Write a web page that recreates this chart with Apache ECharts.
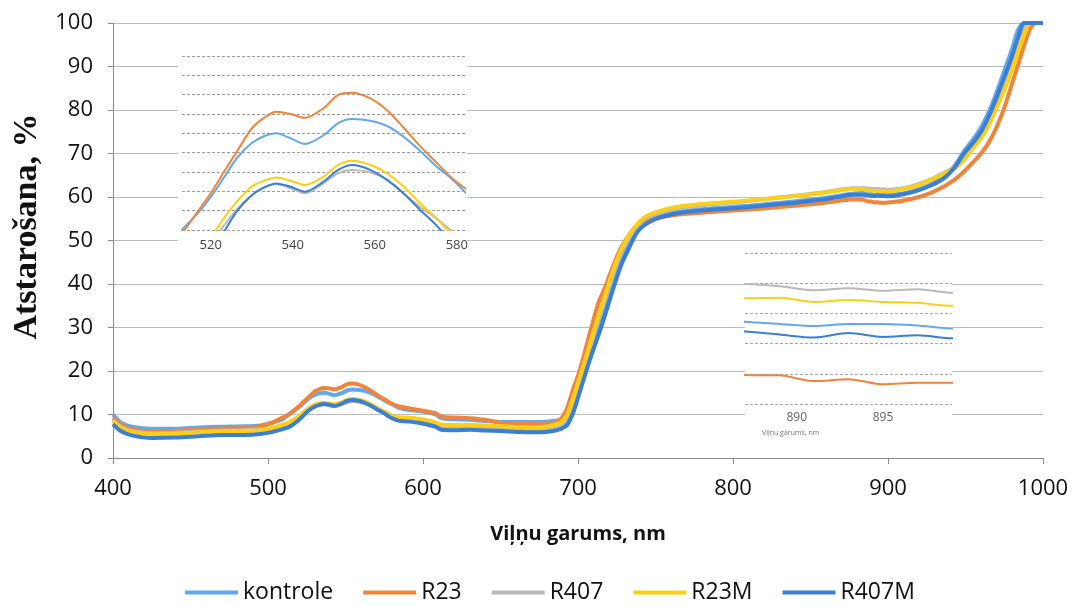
<!DOCTYPE html>
<html>
<head>
<meta charset="utf-8">
<script src="https://cdn.jsdelivr.net/npm/echarts@6/dist/echarts.min.js"></script>
<style>
  html, body { margin: 0; padding: 0; background: #fff; }
  #chart { width: 1073px; height: 606px; }
</style>
</head>
<body>
<div id="chart"></div>
<script>
// Reflectance spectra, wavelength in nm
const wavelengths = [
  400, 405, 412, 425, 440, 455, 470, 485, 495, 503,
  510, 513, 517, 520, 523.5, 526.5, 530, 533, 536, 539.5,
  543, 547.5, 551, 554.5, 559, 563, 567, 571, 575, 579,
  584, 590, 597, 604, 608, 612, 620, 630, 640, 650,
  662, 675, 684, 689, 693, 697, 701, 705, 709, 713,
  718, 723, 728, 733, 738, 744, 752, 765, 780, 795,
  810, 825, 840, 855, 868, 878, 884, 887, 889, 891,
  893, 895, 897, 899, 905, 912, 920, 928, 936, 943,
  949, 955, 960, 965, 970, 975, 980, 984, 988, 992,
  996, 1000
];

const kontrole = [
  10.0, 8.2, 7.2, 6.7, 6.7, 7.0, 7.2, 7.3, 7.5, 8.1,
  9.0, 10.0, 10.9, 11.7, 12.8, 13.75, 14.5, 14.85, 15.0, 14.74,
  14.45, 14.9, 15.52, 15.74, 15.65, 15.38, 14.83, 14.1, 13.3, 12.6,
  11.6, 11.1, 10.8, 10.4, 10.0, 9.1, 8.9, 8.8, 8.5, 8.3,
  8.3, 8.3, 8.5, 8.9, 9.8, 12.5, 16.5, 21.0, 25.5, 29.7,
  35.0, 40.5, 45.5, 49.3, 52.3, 54.2, 55.5, 56.6, 57.2, 57.6,
  58.0, 58.5, 59.0, 59.6, 60.3, 60.8, 60.9, 60.72, 60.65, 60.58,
  60.65, 60.65, 60.6, 60.5, 60.6, 61.0, 61.8, 63.0, 64.8, 67.2,
  70.5, 73.3, 76.0, 79.5, 84.0, 89.0, 94.0, 98.5, 100, 100,
  100, 100
];

const r23 = [
  9.3, 7.7, 6.6, 6.1, 6.2, 6.6, 6.8, 6.9, 7.3, 8.2,
  9.4, 9.85, 11.0, 11.9, 13.1, 14.1, 15.25, 15.8, 16.12, 16.0,
  15.8, 16.3, 16.98, 17.1, 16.8, 16.2, 15.3, 14.35, 13.5, 12.65,
  11.9, 11.5, 11.05, 10.6, 10.3, 9.5, 9.3, 9.15, 8.8, 8.1,
  7.9, 7.75, 8.0, 9.0, 11.5, 16.0, 20.0, 25.2, 30.5, 35.5,
  39.7, 44.5, 48.5, 51.3, 53.3, 54.3, 55.2, 56.0, 56.4, 56.8,
  57.1, 57.5, 58.0, 58.5, 59.1, 59.5, 59.4, 58.96, 58.95, 58.76,
  58.82, 58.65, 58.7, 58.7, 58.9, 59.3, 60.0, 61.0, 62.4, 64.0,
  65.8, 68.0, 70.0, 72.5, 76.0, 80.5, 86.0, 90.5, 95.0, 98.8,
  100, 100
];

const r407 = [
  8.7, 7.2, 6.2, 5.7, 5.8, 6.1, 6.3, 6.4, 6.6, 6.8,
  7.3, 7.5, 8.4, 9.3, 10.3, 11.1, 11.8, 12.2, 12.38, 12.16,
  11.9, 12.41, 12.93, 13.1, 12.97, 12.59, 11.9, 11.2, 10.6, 9.9,
  9.0, 8.8, 8.5, 8.1, 7.7, 7.1, 7.0, 7.0, 6.9, 6.7,
  6.5, 6.4, 6.8, 7.5, 9.0, 13.2, 17.5, 22.0, 26.8, 31.5,
  37.0, 42.5, 47.2, 50.6, 53.0, 55.2, 56.3, 57.4, 58.1, 58.6,
  59.1, 59.7, 60.3, 60.9, 61.6, 62.0, 62.0, 61.97, 61.9, 61.77,
  61.83, 61.75, 61.8, 61.68, 61.8, 62.2, 63.0, 64.1, 65.5, 66.9,
  69.0, 72.0, 74.5, 77.8, 81.8, 86.3, 91.0, 95.3, 99.0, 100,
  100, 100
];

const r23m = [
  8.5, 7.0, 6.0, 5.5, 5.6, 5.9, 6.1, 6.2, 6.4, 7.0,
  7.7, 8.1, 8.9, 9.6, 10.7, 11.5, 12.25, 12.55, 12.72, 12.55,
  12.33, 12.76, 13.36, 13.58, 13.36, 12.93, 12.25, 11.4, 10.6, 9.8,
  9.4, 9.3, 9.05, 8.6, 8.2, 7.7, 7.6, 7.6, 7.5, 7.3,
  7.1, 7.0, 7.6, 8.2, 10.0, 14.0, 18.4, 23.0, 27.8, 32.5,
  38.0, 43.5, 48.0, 51.3, 53.7, 55.6, 56.7, 57.8, 58.4, 58.8,
  59.2, 59.7, 60.2, 60.8, 61.5, 61.9, 61.8, 61.5, 61.52, 61.38,
  61.44, 61.38, 61.35, 61.25, 61.5, 62.0, 62.8, 64.0, 65.3, 66.5,
  68.5, 71.3, 73.5, 76.5, 80.5, 84.5, 89.3, 93.5, 97.5, 100,
  100, 100
];

const r407m = [
  7.8, 6.2, 5.2, 4.6, 4.7, 5.0, 5.3, 5.3, 5.5, 6.0,
  6.7, 7.0, 7.9, 8.8, 10.0, 11.0, 11.8, 12.2, 12.41, 12.24,
  11.98, 12.5, 13.1, 13.36, 13.1, 12.59, 11.9, 11.05, 10.25, 9.3,
  8.6, 8.4, 8.1, 7.6, 7.2, 6.5, 6.4, 6.5, 6.3, 6.2,
  6.0, 5.9, 6.2, 6.7, 7.6, 10.5, 15.0, 19.6, 24.0, 28.0,
  33.5, 39.2, 44.5, 48.3, 51.8, 53.8, 55.2, 56.3, 56.9, 57.3,
  57.7, 58.2, 58.7, 59.3, 60.0, 60.5, 60.5, 60.4, 60.3, 60.2,
  60.35, 60.22, 60.28, 60.18, 60.3, 60.8, 61.6, 62.7, 64.3, 66.8,
  70.0, 72.5, 75.0, 78.5, 82.8, 87.5, 92.3, 96.8, 100, 100,
  100, 100
];

const seriesNames = ['kontrole', 'R23', 'R407', 'R23M', 'R407M'];
const seriesValues = [kontrole, r23, r407, r23m, r407m];

// Tick positions on the two magnified panels
const inset1Ticks = [520, 540, 560, 580];
const inset2Ticks = [890, 895];

const palette = ['#62a8ee', '#f0843a', '#b9b9b9', '#fbcf17', '#3b7fd4'];
const FONT = '"Open Sans", sans-serif';

function pairs(values) {
  return wavelengths.map((w, i) => [w, values[i]]);
}

const series = [];
// main spectra plus the same spectra in two magnified panels
[0, 1, 2].forEach(function (g) {
  seriesNames.forEach(function (name, i) {
    series.push({
      name: name,
      type: 'line',
      xAxisIndex: g,
      yAxisIndex: g,
      data: pairs(seriesValues[i]),
      showSymbol: false,
      symbol: 'none',
      smooth: 0.3,
      clip: true,
      z: g === 0 ? 2 : 8,
      lineStyle: { color: palette[i], width: g === 0 ? 4 : 2 },
      itemStyle: { color: palette[i] }
    });
  });
});

const plain = function (v) { return String(v); };

const chart = echarts.init(document.getElementById('chart'), null, { renderer: 'canvas' });

chart.setOption({
  animation: false,
  backgroundColor: '#ffffff',
  textStyle: { fontFamily: FONT },
  grid: [
    { left: 113, right: 30, top: 23, bottom: 148 },
    { left: 182, top: 56, width: 283, height: 174 },
    { left: 745, top: 253, width: 207, height: 151 }
  ],
  xAxis: [
    {
      gridIndex: 0, type: 'value', min: 400, max: 1000, interval: 100,
      axisLine: { show: true, lineStyle: { color: '#8c8c8c', width: 1 } },
      axisTick: { show: true, length: 6, lineStyle: { color: '#8c8c8c' } },
      axisLabel: { fontSize: 22, color: '#111', margin: 20, fontFamily: FONT, formatter: plain },
      splitLine: { show: false },
      name: 'Viļņu garums, nm',
      nameLocation: 'middle',
      nameGap: 66,
      nameTextStyle: { fontSize: 20, fontWeight: 'bold', color: '#111', fontFamily: FONT }
    },
    {
      gridIndex: 1, type: 'value', min: 513, max: 582, z: 6,
      axisLine: { show: false }, axisTick: { show: false }, splitLine: { show: false },
      axisLabel: { customValues: inset1Ticks, fontSize: 13, color: '#444', margin: 9, fontFamily: FONT, formatter: plain }
    },
    {
      gridIndex: 2, type: 'value', min: 887, max: 899, z: 6,
      axisLine: { show: false }, axisTick: { show: false }, splitLine: { show: false },
      axisLabel: { customValues: inset2Ticks, fontSize: 12, color: '#666', margin: 8, fontFamily: FONT, formatter: plain }
    }
  ],
  yAxis: [
    {
      gridIndex: 0, type: 'value', min: 0, max: 100, interval: 10,
      axisLine: { show: true, lineStyle: { color: '#8c8c8c', width: 1 } },
      axisTick: { show: true, length: 5, lineStyle: { color: '#8c8c8c' } },
      axisLabel: { fontSize: 22, color: '#111', margin: 20, fontFamily: FONT },
      splitLine: { show: true, lineStyle: { color: '#bcbcbc', width: 1 } },
      name: 'Atstarošana, %',
      nameLocation: 'middle',
      nameRotate: 90,
      nameGap: 66,
      nameTextStyle: {
        fontSize: 34, fontWeight: 'bold', color: '#111',
        fontFamily: '"Liberation Serif", "DejaVu Serif", serif',
        padding: [0, 0, 0, 28]
      }
    },
    {
      gridIndex: 1, type: 'value', min: 10, max: 19, interval: 1, z: 6,
      axisLine: { show: false }, axisTick: { show: false }, axisLabel: { show: false },
      splitLine: { show: true, lineStyle: { color: '#9e9e9e', width: 1, type: [3, 2] } }
    },
    {
      gridIndex: 2, type: 'value', min: 58, max: 63, interval: 1, z: 6,
      axisLine: { show: false }, axisTick: { show: false }, axisLabel: { show: false },
      splitLine: { show: true, lineStyle: { color: '#a8a8a8', width: 1, type: [3, 2] } }
    }
  ],
  graphic: [
    { type: 'rect', z: 5, shape: { x: 178, y: 45, width: 289, height: 217 }, style: { fill: '#ffffff' } },
    { type: 'rect', z: 5, shape: { x: 745, y: 250, width: 207, height: 190 }, style: { fill: '#ffffff' } },
    {
      type: 'text', z: 7, x: 762, y: 429,
      style: { text: 'Viļņu garums, nm', fontSize: 7, fill: '#777', fontFamily: FONT }
    }
  ],
  legend: {
    data: seriesNames,
    left: 185,
    top: 581,
    icon: 'rect',
    itemWidth: 53,
    itemHeight: 4,
    itemGap: 30,
    padding: 0,
    textStyle: { fontSize: 23, color: '#111', fontFamily: FONT }
  },
  series: series
});
</script>
</body>
</html>
